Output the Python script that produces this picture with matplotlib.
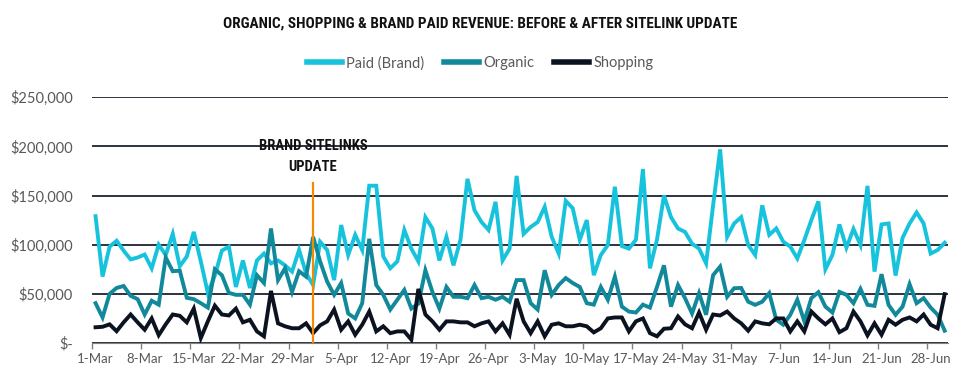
import numpy as np
import pandas as pd
import matplotlib
matplotlib.use('Agg')
import matplotlib.pyplot as plt
from matplotlib import font_manager
from matplotlib.ticker import FuncFormatter

plt.rcParams['font.family'] = ['Lato', 'DejaVu Sans']

# daily dates, 1-Mar to 30-Jun
dates = pd.date_range('2023-03-01', '2023-06-30', freq='D')
update_date = pd.Timestamp('2023-04-01')

# revenue in $k
paid_brand = [
    129, 67.6, 98, 104, 94, 85, 87, 90, 76, 100, 89.5, 111, 78, 88, 113, 83, 51, 68.6, 94, 98,
    57, 84, 56, 84, 91, 81, 84, 79, 72.6, 94.6, 71, 59,
    103, 94.6, 64, 120, 89.5, 110, 94.6, 160, 160, 88, 76, 83, 115, 96, 83,
    128, 116.5, 84, 108, 79, 105, 167, 135, 123, 115, 143.6, 84, 96, 170,
    111, 118, 123, 138.5, 108, 91, 144.6, 137, 105, 125, 69, 89.5, 99.7,
    159, 98.6, 96, 105, 177, 76, 105, 150, 128, 116.5, 113, 101, 96, 81, 140, 197,
    108, 121.6, 128, 99.7, 89.5, 140, 110, 116.5, 103, 98, 86,
    104.7, 125, 144, 75, 89.5, 120.6, 97, 116, 99.7, 159.8, 72.6, 120.6, 121.6, 68.6,
    107, 121.6, 132.8, 121.6, 91, 94.6, 102,
]
organic = [
    40.5, 26, 50, 56, 58, 48, 44.6, 29, 43, 39, 87, 73, 73.6, 46, 44.6, 40.5, 36, 75, 69, 51,
    49, 49, 39, 69, 61, 116.5, 64, 76, 52, 73, 67.5, 108,
    83, 62.5, 49, 61, 30, 25, 40.5, 106, 59, 49, 34, 44, 54, 35, 40,
    74, 52, 35, 57, 47, 47, 45.6, 59, 45.6, 47, 44, 47, 42, 64,
    64, 40.5, 34, 74, 49, 59, 66, 61, 57, 40.5, 39, 57, 44,
    67.5, 37, 32, 31, 39, 36, 57, 79, 37, 59, 45.6, 30, 50.7, 28.7, 69, 77.7,
    47, 55.7, 56, 42, 38.8, 42, 50.7, 23.6, 18.6, 28.7, 44,
    22, 45.6, 51.7, 37, 31, 52, 49, 40.5, 55, 38.8, 37.8, 70, 38.8, 28.7,
    37, 59.8, 40.5, 45.6, 36, 28.7, 12.5,
]
shopping = [
    16, 16.5, 19, 12, 21, 29, 21, 13.5, 25, 8, 19, 29, 27.7, 21, 35, 5, 22, 38, 29, 28,
    35, 21, 23.6, 11.8, 6.8, 53, 20, 17, 15, 15, 20, 10,
    18, 22, 34, 13.5, 22, 8.4, 18.6, 32, 11.8, 17, 10, 11.8, 11.8, 3.4, 55,
    29, 22, 13.5, 22, 22, 21, 21, 17, 20, 22, 11.8, 20, 8.4, 45,
    22, 10, 22, 6.8, 18.6, 20, 17, 17, 18.6, 17, 10.8, 15, 25,
    26, 26, 11.8, 22, 25, 10, 6.8, 14.5, 15, 27, 19, 15, 31, 13.5, 29, 28,
    32, 25, 20, 12.5, 22, 20, 19, 25, 25, 11.8, 22,
    11.8, 32, 25, 19, 25, 11, 15, 32, 22, 7.8, 20, 8.4, 23.6, 18.6,
    23.6, 26, 22, 29, 18.6, 15, 49.7,
]

series_names = ['Paid (Brand)', 'Organic', 'Shopping']
series_colors = ['#17c3dc', '#12899b', '#0b1220']
grid_color = '#1b2330'
label_gray = '#595959'

# a narrow bold face for the headline text, if one is installed
installed = {f.name for f in font_manager.fontManager.ttflist}
narrow = [n for n in ['Liberation Sans Narrow', 'Roboto Condensed', 'Open Sans Condensed',
                      'Noto Sans Condensed', 'DejaVu Sans Condensed'] if n in installed]
cond_font = narrow + ['DejaVu Sans']
head_size = 11 if narrow else 9.5

fig = plt.figure(figsize=(9.74, 3.87), dpi=100)
ax = fig.add_axes([0.0945, 0.1137, 0.879, 0.635])

x = np.arange(len(dates))
for vals, name, col in zip([paid_brand, organic, shopping], series_names, series_colors):
    ax.plot(x, np.array(vals) * 1000, color=col, lw=2.8, label=name,
            solid_joinstyle='miter', zorder=3)

# sitelink update marker
ux = int((update_date - dates[0]).days)
ax.plot([ux, ux], [0, 163000], color='#f28c00', lw=1.6, zorder=4)
ax.text(ux, 190000, 'BRAND SITELINKS\nUPDATE', ha='center', va='center',
        fontsize=head_size - 0.5, fontweight='bold', fontstretch='condensed',
        family=cond_font, color='#111111', linespacing=1.6, zorder=5)

ax.set_xlim(-0.5, len(dates) - 0.5)
ax.set_ylim(0, 250000)
ax.set_yticks(np.arange(0, 250001, 50000))
ax.yaxis.set_major_formatter(FuncFormatter(lambda v, p: '$-' if v == 0 else f'${v:,.0f}'))
ax.grid(axis='y', color=grid_color, lw=1.3, zorder=1)

tick_idx = np.arange(0, len(dates), 7)
ax.set_xticks(tick_idx)
ax.set_xticklabels([f'{dates[i].day}-{dates[i].strftime("%b")}' for i in tick_idx])
ax.set_xticks(tick_idx - 0.5, minor=True)
ax.tick_params(axis='x', which='major', length=0, pad=7, labelsize=9.5, labelcolor=label_gray)
ax.tick_params(axis='x', which='minor', length=4, width=1, color='#808080', direction='out')
ax.tick_params(axis='y', length=0, pad=14, labelsize=10.5, labelcolor=label_gray)

for s in ['top', 'right', 'left']:
    ax.spines[s].set_visible(False)
ax.spines['bottom'].set_color('#808080')

fig.text(0.493, 0.94, 'ORGANIC, SHOPPING & BRAND PAID REVENUE: BEFORE & AFTER SITELINK UPDATE',
         ha='center', va='center', fontsize=head_size, fontweight='bold',
         fontstretch='condensed', family=cond_font, color='#111111')

leg = fig.legend(loc='center', bbox_to_anchor=(0.493, 0.837), ncol=3, frameon=False,
                 fontsize=10.5, handlelength=2.4, handletextpad=0.25, columnspacing=1.4,
                 labelcolor=label_gray)
for h in leg.get_lines():
    h.set_linewidth(4)

plt.savefig('out.png', dpi=100)
